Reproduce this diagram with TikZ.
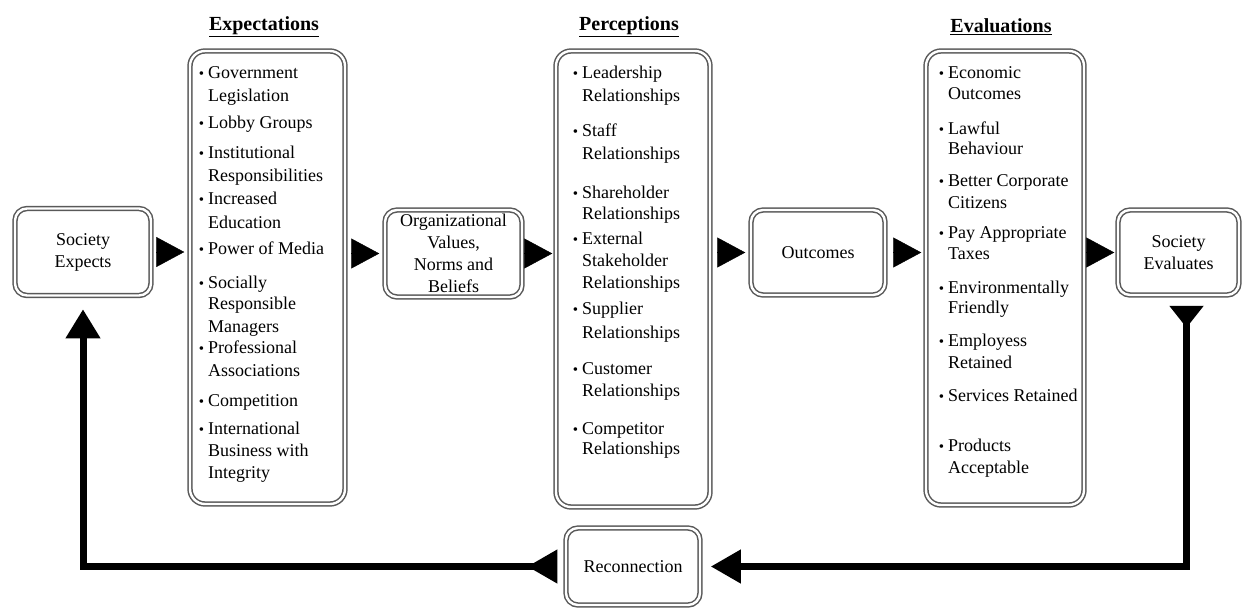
\documentclass[tikz,border=0pt]{standalone}
\usepackage{fontspec}
\setmainfont{Liberation Serif}
\usetikzlibrary{arrows.meta}
\newcommand{\bul}{{\fontsize{15}{15}\selectfont\textbullet}\hspace{4pt}}
\tikzset{
  dbox/.style={draw=black!65, double=white, line width=1.5pt, double distance=2.4pt,
    rounded corners=12pt, inner sep=0pt, align=center, font=\fontsize{18}{22}\selectfont},
  listbox/.style={dbox, rounded corners=15pt},
  headtext/.style={inner sep=0pt, font=\fontsize{20}{24}\selectfont\bfseries},
  entry/.style={anchor=base west, inner sep=0pt, font=\fontsize{18}{22}\selectfont},
  tri/.style={-{Triangle[length=28pt,width=30pt]}, line width=0.4pt},
  fb/.style={line width=7pt},
}
\begin{document}
\begin{tikzpicture}[x=1pt, y=-1pt]
    \useasboundingbox (0,0) rectangle (1244,613);
    % small boxes
    \node[dbox, minimum width=136pt, minimum height=87pt] (socexp) at (83,252) {Society\\Expects};
    \node[dbox, minimum width=137pt, minimum height=87pt] (org) at (453.5,253.5) {Organizational\\Values,\\Norms and\\Beliefs};
    \node[dbox, minimum width=134pt, minimum height=85pt] (outc) at (818,252.5) {Outcomes};
    \node[dbox, minimum width=121pt, minimum height=85pt] (socevl) at (1178.5,252.5) {Society\\Evaluates};
    \node[dbox, minimum width=134pt, minimum height=77pt] (recon) at (633,566.5) {Reconnection};
    % list boxes
    \node[listbox, minimum width=155pt, minimum height=453pt] (expect) at (267.5,277.5) {};
    \node[listbox, minimum width=154pt, minimum height=456pt] (percep) at (633,279) {};
    \node[listbox, minimum width=158pt, minimum height=454pt] (eval) at (1005,278) {};
    % headings
    \node[headtext] (exphead) at (264,27) {\underline{Expectations}};
    \node[headtext] (perhead) at (629,27) {\underline{Perceptions}};
    \node[headtext] (evahead) at (1001,27) {\underline{Evaluations}};
    % expectations
    \foreach \yy/\bb/\txt [count=\i] in {72/1/Government, 95/0/Legislation, 122/1/Lobby Groups,
        152/1/Institutional, 175/0/Responsibilities, 198/1/Increased, 222/0/Education,
        248/1/Power of Media, 282/1/Socially, 303/0/Responsible, 326/0/Managers,
        347/1/Professional, 370/0/Associations, 400/1/Competition, 428/1/International,
        450/0/Business with, 472/0/Integrity}
      \node[entry] (ex\i) at (208,\yy+6) {\ifnum\bb=1\llap{\bul}\fi\txt};
    % perceptions
    \foreach \yy/\bb/\txt [count=\i] in {72/1/Leadership, 95/0/Relationships, 130/1/Staff,
        153/0/Relationships, 192/1/Shareholder, 213/0/Relationships, 238/1/External,
        260/0/Stakeholder, 282/0/Relationships, 308/1/Supplier, 332/0/Relationships,
        368/1/Customer, 390/0/Relationships, 428/1/Competitor, 448/0/Relationships}
      \node[entry] (pe\i) at (582,\yy+6) {\ifnum\bb=1\llap{\bul}\fi\txt};
    % evaluations
    \foreach \yy/\bb/\txt [count=\i] in {72/1/Economic, 93/0/Outcomes, 128/1/Lawful,
        148/0/Behaviour, 180/1/Better Corporate, 202/0/Citizens, 232/1/Pay Appropriate,
        253/0/Taxes, 287/1/Environmentally, 307/0/Friendly, 340/1/Employess,
        362/0/Retained, 395/1/Services Retained, 445/1/Products, 467/0/Acceptable}
      \node[entry] (ev\i) at (948,\yy+6) {\ifnum\bb=1\llap{\bul}\fi\txt};
    % forward arrows
    \draw[tri, shorten <=6pt, shorten >=5pt] (socexp.east) -- (socexp.east -| expect.west);
    \draw[tri, shorten <=7pt, shorten >=5pt] (expect.east |- org.west) -- (org.west);
    \draw[tri, shorten <=3pt, shorten >=3pt] (org.east) -- (org.east -| percep.west);
    \draw[tri, shorten <=8pt, shorten >=5pt] (percep.east |- outc.west) -- (outc.west);
    \draw[tri, shorten <=10pt, shorten >=4pt] (outc.east) -- (outc.east -| eval.west);
    \draw[tri, shorten <=3pt, shorten >=3pt] (eval.east |- socevl.west) -- (socevl.west);
    % feedback loop
    \draw[fb, {Triangle[reversed, length=22pt, width=33pt]}-{Triangle[length=30pt, width=32pt]},
        shorten <=10pt, shorten >=10pt] ([xshift=8pt]socevl.south) |- (recon.east);
    \draw[fb, {Triangle[reversed, length=30pt, width=32pt]}-{Triangle[length=29pt, width=33pt]},
        shorten <=8pt, shorten >=13pt] (recon.west) -| (socexp.south);
\end{tikzpicture}
\end{document}
